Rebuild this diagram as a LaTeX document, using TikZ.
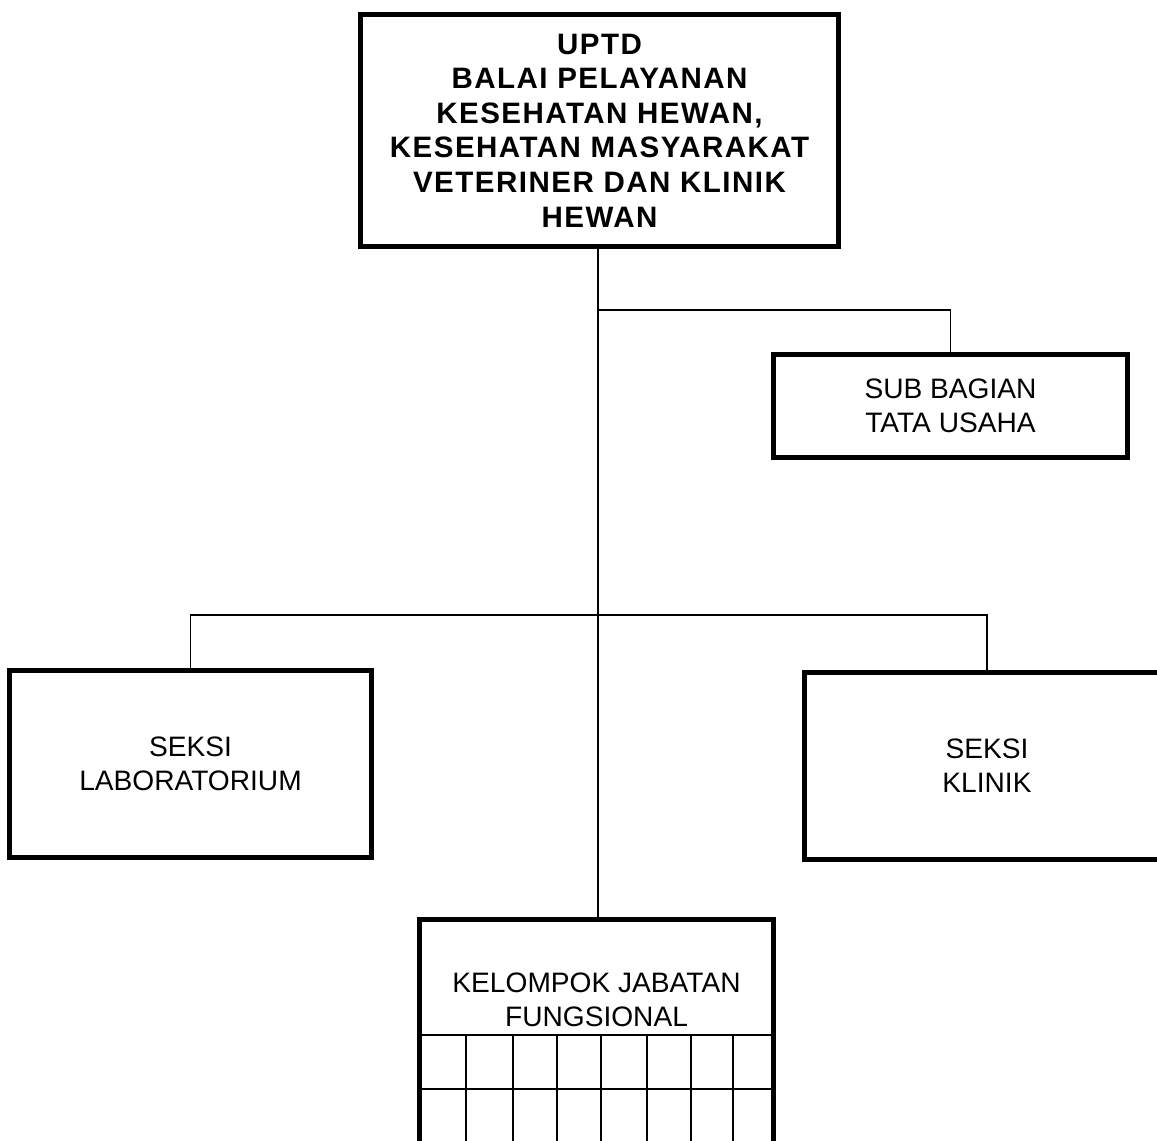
\documentclass[tikz,border=0pt]{standalone}
\usepackage{fontspec}
\setmainfont{Liberation Sans}
\usepackage{xcolor}
\usepackage{tikz}
\usetikzlibrary{
    positioning,
    calc
}

\begin{document}
\begin{tikzpicture}[x=0.025cm, y=-0.025cm,
    unit/.style={draw, line width=3.5pt, inner sep=0pt, align=center, font=\fontsize{20}{24}\selectfont},
    link/.style={line width=1.4pt},
    cell/.style={line width=1.4pt}]
        \useasboundingbox (0,0) rectangle (1157,1141);
        % head of the office
        \node[unit, font=\bfseries\fontsize{21}{24.6}\selectfont\addfontfeatures{LetterSpace=5}, minimum width=11.95cm, minimum height=5.8cm] (uptd) at (599.5,130.5)
            {UPTD\\BALAI PELAYANAN\\KESEHATAN HEWAN,\\KESEHATAN MASYARAKAT\\VETERINER DAN KLINIK\\HEWAN};
        \node[unit, minimum width=8.85cm, minimum height=2.575cm] (tatausaha) at (950.5,406) {SUB BAGIAN\\TATA USAHA};
        \node[unit, minimum width=9.025cm, minimum height=4.675cm] (lab) at (190.5,764) {SEKSI\\LABORATORIUM};
        \node[unit, minimum width=9.125cm, minimum height=4.675cm] (klinik) at (987,766) {SEKSI\\KLINIK};
        \node[unit, minimum width=8.85cm, minimum height=5.6375cm] (fung) at (596.5,1032.25) {};
        \node[font=\fontsize{20}{24}\selectfont, align=center, inner sep=0pt] (fungtext) at (596.5,1000) {KELOMPOK JABATAN\\FUNGSIONAL};

        % lines of command
        \coordinate (trunk) at (598,512);
        \coordinate (tubranch) at (598,310);
        \coordinate (seksibranch) at (598,615);
        \draw[link, line width=1.9pt] (trunk |- uptd.south) -- (trunk);
        \draw[link] (trunk) -- (trunk |- fung.north);
        \draw[link] (tubranch) -| (tatausaha.north);
        \draw[link] (lab.north) |- (seksibranch) -| (klinik.north);

        % grid of the functional group
        \draw[cell] (fung.west |- 0,1035) -- (fung.east |- 0,1035);
        \draw[cell] (fung.west |- 0,1089) -- (fung.east |- 0,1089);
        \foreach \x in {466,513,557,601,647,691,733}
            \draw[cell] (\x,1035) -- (\x,1150);
    \end{tikzpicture}
\end{document}
